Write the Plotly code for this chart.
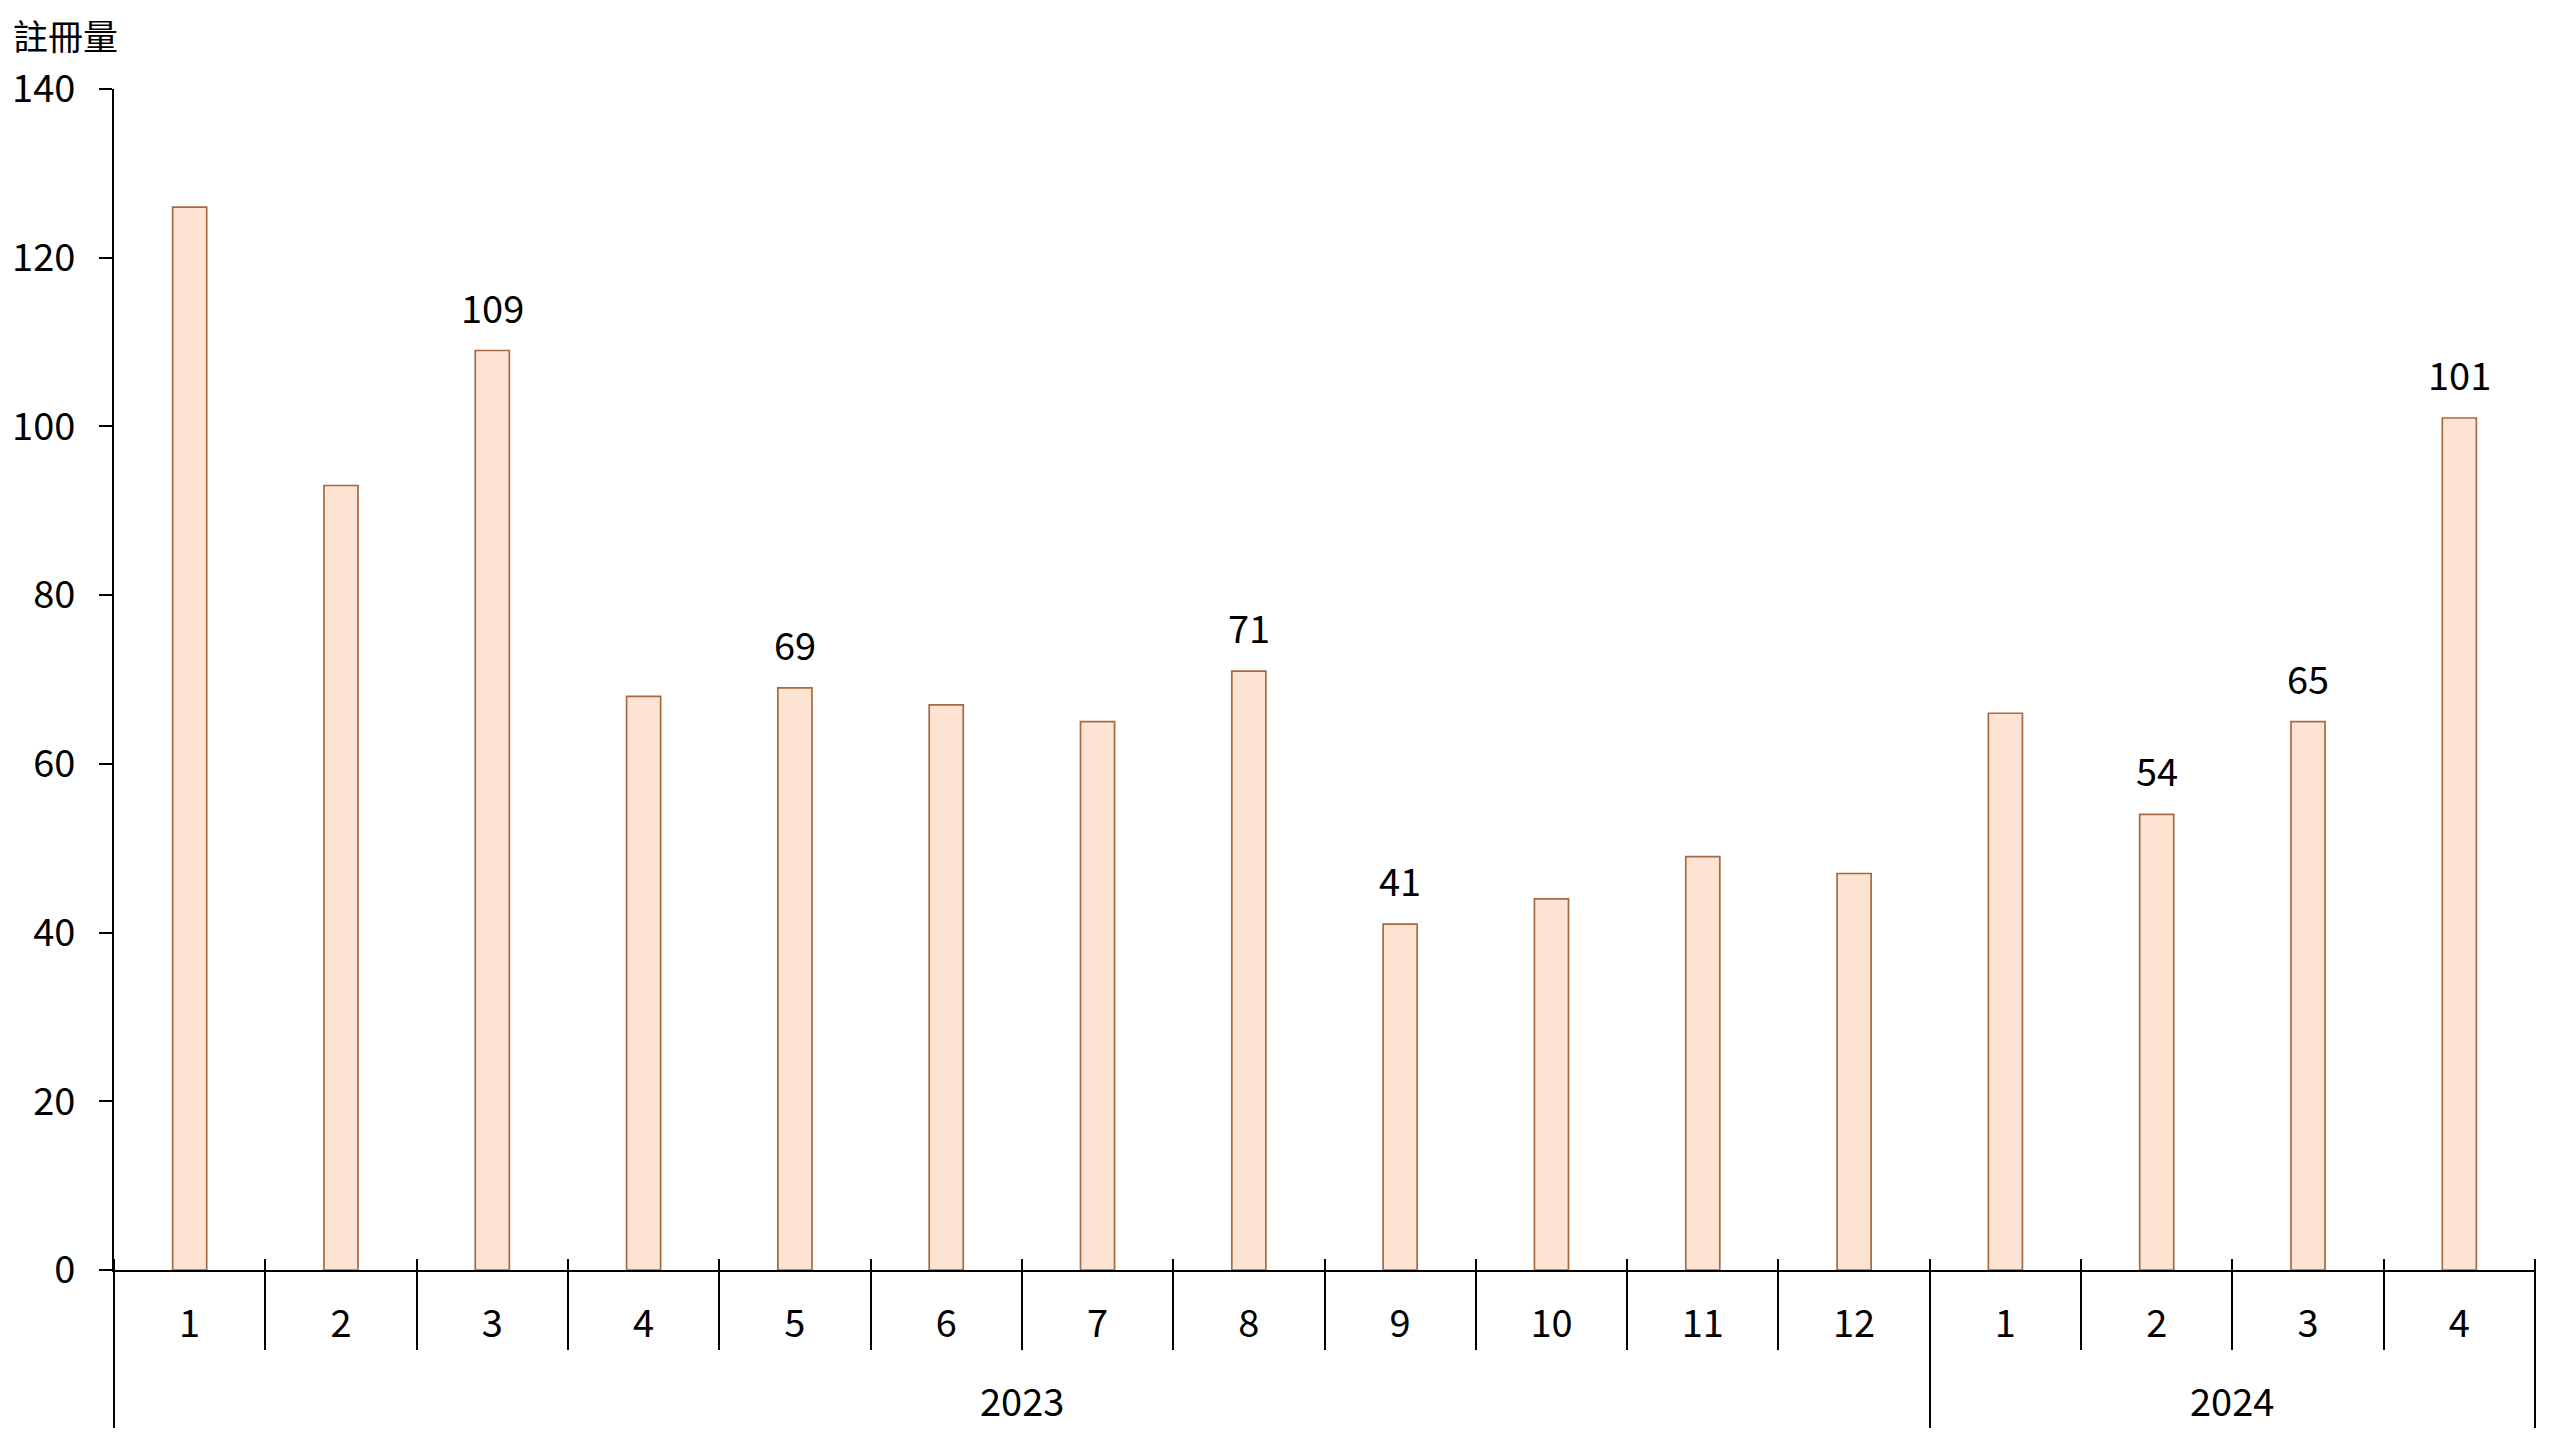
import plotly.graph_objects as go

months = ["1", "2", "3", "4", "5", "6", "7", "8", "9", "10", "11", "12", "1", "2", "3", "4"]
years = ["2023"] * 12 + ["2024"] * 4
values = [126, 93, 109, 68, 69, 67, 65, 71, 41, 44, 49, 47, 66, 54, 65, 101]
show_label = [False, False, True, False, True, False, False, True, True, False, False, False, False, True, True, True]
y_ticks = [0, 20, 40, 60, 80, 100, 120, 140]
axis_title = "註冊量"

FONT = "Noto Sans CJK TC, Noto Sans, sans-serif"
FS = 38
n = len(values)
idx = list(range(n))

# page has an 8px body margin; size the figure to fit the viewport
W, H = 2544, 1424
ml, mr, mt, mb = 106, 17, 81, 162
plot_w = W - ml - mr
plot_h = H - mt - mb
up_frac = 12 / plot_h

# group boundaries for year dividers
year_bounds = [-0.5]
for i in range(1, n):
    if years[i] != years[i - 1]:
        year_bounds.append(i - 0.5)
year_bounds.append(n - 0.5)
month_bounds = [i - 0.5 for i in range(1, n) if (i - 0.5) not in year_bounds]

fig = go.Figure()
fig.add_trace(go.Bar(
    x=idx, y=values, width=0.225,
    marker=dict(color="#FDE4D2", line=dict(color="#A56A42", width=1.7)),
    hoverinfo="skip",
))
# invisible helper traces so the overlay axes (separators) are drawn
for ax in ("x2", "x3"):
    fig.add_trace(go.Scatter(x=[None], y=[None], xaxis=ax, yaxis="y", mode="markers",
                             hoverinfo="skip", showlegend=False))

annotations = []
for i, (v, s) in enumerate(zip(values, show_label)):
    if s:
        annotations.append(dict(x=i, y=v, xref="x", yref="y", text=str(v), showarrow=False,
                                yanchor="bottom", yshift=15,
                                font=dict(family=FONT, size=FS, color="black")))
# year labels
groups = {}
for i, yv in enumerate(years):
    groups.setdefault(yv, []).append(i)
for yv, ids in groups.items():
    annotations.append(dict(x=(ids[0] + ids[-1]) / 2, y=0, xref="x", yref="y", text=yv,
                            showarrow=False, yanchor="middle", yshift=-129,
                            font=dict(family=FONT, size=FS, color="black")))
annotations.append(dict(x=(3 - ml) / plot_w, y=(plot_h + 55) / plot_h, xref="paper", yref="paper",
                        text=axis_title, showarrow=False, xanchor="left", yanchor="middle",
                        font=dict(family=FONT, size=35, color="black")))

xr = [-0.5, n - 0.5]
fig.update_layout(
    width=W, height=H,
    margin=dict(l=ml, r=mr, t=mt, b=mb, autoexpand=False),
    plot_bgcolor="white", paper_bgcolor="white",
    showlegend=False,
    font=dict(family=FONT, size=FS, color="black"),
    annotations=annotations,
    xaxis=dict(range=xr, tickmode="array", tickvals=idx, ticktext=months,
               ticks="outside", tickcolor="rgba(0,0,0,0)", ticklen=19,
               showline=True, linecolor="black", linewidth=2,
               showgrid=False, zeroline=False, fixedrange=True,
               tickfont=dict(family=FONT, size=FS, color="black")),
    xaxis2=dict(range=xr, overlaying="x", anchor="free", position=up_frac,
                tickmode="array", tickvals=month_bounds, ticks="outside", ticklen=12 + 79,
                tickwidth=2, tickcolor="black", showticklabels=False,
                showline=False, showgrid=False, zeroline=False, fixedrange=True),
    xaxis3=dict(range=xr, overlaying="x", anchor="free", position=up_frac,
                tickmode="array", tickvals=year_bounds, ticks="outside", ticklen=12 + 157,
                tickwidth=2, tickcolor="black", showticklabels=False,
                showline=False, showgrid=False, zeroline=False, fixedrange=True),
    yaxis=dict(range=[0, 140], tickmode="array", tickvals=y_ticks,
               ticks="outside", ticklen=13, tickwidth=2, tickcolor="black",
               showline=True, linecolor="black", linewidth=2,
               showgrid=False, zeroline=False, fixedrange=True,
               ticklabelstandoff=16,
               tickfont=dict(family=FONT, size=FS, color="black")),
)

fig.write_html("out.html")
